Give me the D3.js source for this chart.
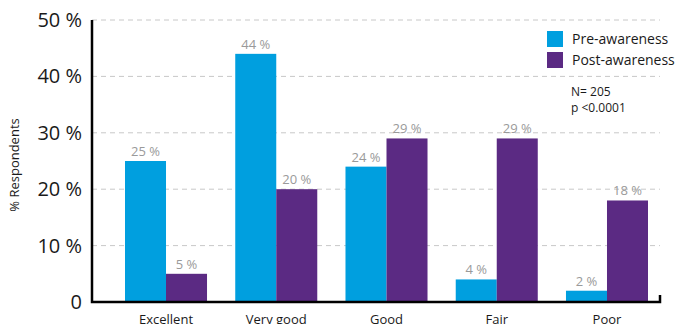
<!DOCTYPE html>
<html><head><meta charset="utf-8">
<script src="https://cdn.jsdelivr.net/npm/d3@7"></script>
<style>body{margin:0;background:#fff}svg{display:block}text{font-family:"Open Sans","Noto Sans",sans-serif}</style>
</head><body><svg id="c" width="676" height="324"></svg>
<script>
const categories = ["Excellent","Very good","Good","Fair","Poor"];
const preAwareness = [25,44,24,4,2];
const postAwareness = [5,20,29,29,18];
const seriesNames = ["Pre-awareness","Post-awareness"];
const yTicks = [0,10,20,30,40,50];
const notes = ["N= 205","p <0.0001"];
const colors = ["#009fdf","#5b2a83"];

const svg = d3.select("#c");
const x0 = 92, x1 = 660, yTop = 20, yBot = 302;
const y = d3.scaleLinear().domain([0,50]).range([yBot,yTop]);
const x = d3.scaleBand().domain(categories).range([125,648]).paddingInner(0.256).paddingOuter(0);
const xs = d3.scaleBand().domain([0,1]).range([0,x.bandwidth()]);

// gridlines
svg.append("g").selectAll("line").data(yTicks.filter(d=>d>0)).join("line")
  .attr("x1",x0).attr("x2",x1).attr("y1",d=>y(d)).attr("y2",d=>y(d))
  .attr("stroke","#c8c8c8").attr("stroke-width",1).attr("stroke-dasharray","5,4");

// bars
const series = [preAwareness, postAwareness];
series.forEach((vals,si)=>{
  svg.append("g").selectAll("rect").data(vals).join("rect")
    .attr("x",(d,i)=>x(categories[i])+xs(si)).attr("width",xs.bandwidth())
    .attr("y",d=>y(d)).attr("height",d=>yBot-y(d)+1).attr("fill",colors[si]);
  svg.append("g").selectAll("text").data(vals).join("text")
    .attr("x",(d,i)=>x(categories[i])+xs(si)+xs.bandwidth()/2)
    .attr("y",d=>y(d)-5).attr("text-anchor","middle")
    .attr("font-size",13).attr("fill","#9a9a9a").text(d=>d+" %");
});

// axes
svg.append("path").attr("d",`M${x0},${yTop}V${yBot}H${x1}V${yBot-7}`)
  .attr("fill","none").attr("stroke","#000").attr("stroke-width",2.5);

// y tick labels
svg.append("g").selectAll("text").data(yTicks).join("text")
  .attr("x",82).attr("y",d=>y(d)+7).attr("text-anchor","end")
  .attr("font-size",20).attr("fill","#1a1a1a").text(d=>d===0?"0":d+" %");

svg.append("text").attr("transform","translate(19,165) rotate(-90)")
  .attr("text-anchor","middle").attr("font-size",13).attr("fill","#1a1a1a").text("% Respondents");

// x labels
svg.append("g").selectAll("text").data(categories).join("text")
  .attr("x",d=>x(d)+x.bandwidth()/2).attr("y",324).attr("text-anchor","middle")
  .attr("font-size",13).attr("fill","#1a1a1a").text(d=>d);

// legend
const lg = svg.append("g");
seriesNames.forEach((n,i)=>{
  lg.append("rect").attr("x",547).attr("y",31+i*21).attr("width",16).attr("height",16).attr("fill",colors[i]);
  lg.append("text").attr("x",572).attr("y",44+i*21).attr("font-size",14).attr("fill","#1a1a1a").text(n);
});
notes.forEach((n,i)=>{
  svg.append("text").attr("x",571).attr("y",96+i*16).attr("font-size",12).attr("fill","#1a1a1a").text(n);
});
</script></body></html>
